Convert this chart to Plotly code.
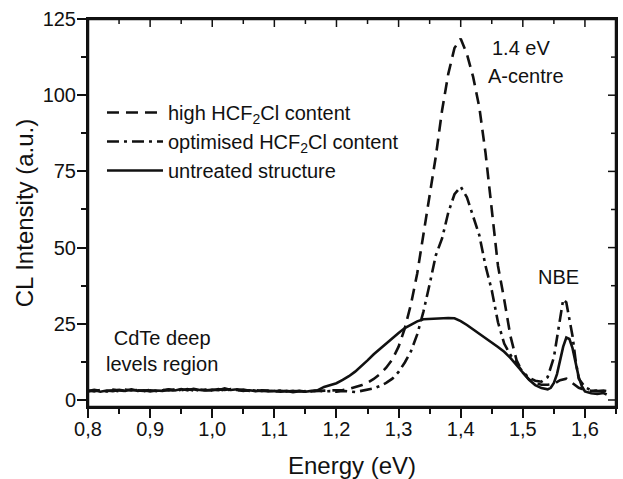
import plotly.graph_objects as go

# ---------------- data ----------------
energy_untreated = [0.80, 0.81, 0.82, 0.83, 0.84, 0.85, 0.86, 0.87, 0.88, 0.89,
                    0.90, 0.91, 0.92, 0.93, 0.94, 0.95, 0.96, 0.97, 0.98, 0.99,
                    1.00, 1.01, 1.02, 1.03, 1.04, 1.05, 1.06, 1.07, 1.08, 1.09,
                    1.10, 1.11, 1.12, 1.13, 1.14, 1.15, 1.16, 1.17, 1.18, 1.19,
                    1.20, 1.21, 1.22, 1.23, 1.24, 1.25, 1.26, 1.27, 1.28, 1.29,
                    1.30, 1.31, 1.32, 1.33, 1.34, 1.35, 1.36, 1.37, 1.38, 1.39,
                    1.40, 1.41, 1.42, 1.43, 1.44, 1.45, 1.46, 1.47, 1.48, 1.49,
                    1.50, 1.51, 1.52, 1.53, 1.54, 1.545, 1.55, 1.555, 1.56, 1.565,
                    1.57, 1.575, 1.58, 1.585, 1.59, 1.595, 1.60, 1.61, 1.62, 1.63, 1.635]
cl_untreated = [2.8, 3.2, 2.7, 3.1, 2.9, 3.3, 3.0, 3.5, 3.0, 3.2,
                2.8, 3.1, 3.0, 3.4, 3.1, 3.6, 3.2, 3.7, 3.3, 3.1,
                3.4, 3.2, 3.8, 3.3, 3.5, 3.1, 3.2, 2.9, 3.1, 2.8,
                3.0, 2.7, 3.0, 2.6, 2.9, 2.7, 3.0, 3.2, 4.3, 4.8,
                5.5, 6.6, 7.8, 9.3, 11.0, 13.0, 15.0, 16.8, 18.4, 20.2,
                22.0, 23.6, 24.8, 25.8, 26.5, 26.6, 26.7, 26.9, 26.9, 26.8,
                25.9, 24.6, 23.2, 21.8, 20.4, 18.9, 17.4, 15.8, 13.8, 11.4,
                8.9, 6.6, 4.9, 3.9, 3.5, 4.0, 5.6, 8.5, 13.0, 17.5,
                20.5, 20.0, 17.0, 12.0, 7.5, 4.5, 2.8, 2.2, 2.0, 2.3, 1.8]

energy_high = [0.80, 0.81, 0.82, 0.83, 0.84, 0.85, 0.86, 0.87, 0.88, 0.89,
               0.90, 0.91, 0.92, 0.93, 0.94, 0.95, 0.96, 0.97, 0.98, 0.99,
               1.00, 1.01, 1.02, 1.03, 1.04, 1.05, 1.06, 1.07, 1.08, 1.09,
               1.10, 1.11, 1.12, 1.13, 1.14, 1.15, 1.16, 1.17, 1.18, 1.19,
               1.20, 1.21, 1.22, 1.23, 1.24, 1.25, 1.26, 1.27, 1.28, 1.29,
               1.30, 1.31, 1.32, 1.33, 1.34, 1.35, 1.36, 1.37, 1.38, 1.39,
               1.40, 1.41, 1.42, 1.43, 1.44, 1.45, 1.46, 1.47, 1.48, 1.49,
               1.50, 1.51, 1.52, 1.53, 1.54, 1.55, 1.56, 1.57, 1.58, 1.59,
               1.60, 1.61, 1.62]
cl_high = [3.1, 2.8, 3.3, 2.9, 3.2, 2.8, 3.4, 3.1, 3.3, 2.9,
           3.2, 3.0, 3.3, 3.1, 3.5, 3.2, 3.6, 3.1, 3.4, 3.3,
           3.1, 3.5, 3.3, 3.6, 3.2, 3.4, 3.0, 3.2, 2.9, 3.1,
           2.8, 3.0, 2.9, 2.8, 3.0, 2.8, 2.9, 3.0, 2.9, 3.0,
           3.1, 3.3, 3.6, 4.1, 4.8, 5.7, 6.9, 8.5, 10.6, 13.3,
           17.5, 23.5, 31.5, 41.5, 54.0, 66.0, 80.0, 95.0, 107.0, 115.5,
           118.5, 113.5, 106.0, 96.0, 81.0, 62.5, 44.0, 33.0, 21.0, 13.0,
           9.0, 6.8, 5.5, 5.0, 5.0, 5.3, 6.5, 7.0, 5.5, 4.0,
           3.3, 3.0, 3.1]

energy_optimised = [0.80, 0.81, 0.82, 0.83, 0.84, 0.85, 0.86, 0.87, 0.88, 0.89,
                    0.90, 0.91, 0.92, 0.93, 0.94, 0.95, 0.96, 0.97, 0.98, 0.99,
                    1.00, 1.01, 1.02, 1.03, 1.04, 1.05, 1.06, 1.07, 1.08, 1.09,
                    1.10, 1.11, 1.12, 1.13, 1.14, 1.15, 1.16, 1.17, 1.18, 1.19,
                    1.20, 1.21, 1.22, 1.23, 1.24, 1.25, 1.26, 1.27, 1.28, 1.29,
                    1.30, 1.31, 1.32, 1.33, 1.34, 1.35, 1.36, 1.37, 1.38, 1.39,
                    1.40, 1.41, 1.42, 1.43, 1.44, 1.45, 1.46, 1.47, 1.48, 1.49,
                    1.50, 1.51, 1.52, 1.53, 1.54, 1.55, 1.56, 1.565, 1.57, 1.575,
                    1.58, 1.585, 1.59, 1.60, 1.61, 1.62, 1.63, 1.64]
cl_optimised = [2.9, 3.3, 3.0, 2.8, 3.4, 3.1, 2.9, 3.3, 3.2, 3.0,
                3.3, 2.9, 3.2, 3.5, 3.0, 3.4, 3.3, 3.5, 3.0, 3.4,
                3.2, 3.6, 3.1, 3.4, 3.3, 3.0, 3.3, 3.0, 3.2, 3.0,
                2.9, 3.1, 2.8, 3.0, 2.7, 2.9, 2.8, 3.1, 2.8, 2.9,
                2.7, 3.0, 2.8, 2.6, 3.0, 3.3, 3.8, 4.6, 5.6, 7.0,
                9.2, 12.3, 16.0, 21.5, 29.0, 38.0, 47.5, 53.0, 61.5, 67.5,
                70.0, 66.5, 60.5, 54.0, 44.0, 36.0, 25.5, 18.5, 14.8, 11.8,
                9.2, 7.3, 6.3, 6.0, 7.5, 14.0, 26.0, 33.0, 32.0, 27.0,
                21.0, 13.0, 7.0, 4.2, 3.2, 2.9, 3.1, 2.8]

series_names = ["high HCF<sub>2</sub>Cl content",
                "optimised HCF<sub>2</sub>Cl content",
                "untreated structure"]

y_ticks = [0, 25, 50, 75, 100, 125]
y_minor_ticks = [12.5, 37.5, 62.5, 87.5, 112.5]
x_ticks = [0.8, 0.9, 1.0, 1.1, 1.2, 1.3, 1.4, 1.5, 1.6]
x_minor_ticks = [0.85, 0.95, 1.05, 1.15, 1.25, 1.35, 1.45, 1.55, 1.65]

# ---------------- figure ----------------
INK = "#111111"
FONT = "Liberation Sans, Arial, sans-serif"
XR = [0.8, 1.65]
YR = [-2.3, 125]

fig = go.Figure()
fig.add_trace(go.Scatter(x=energy_high, y=cl_high, mode="lines", name=series_names[0],
                         line=dict(color=INK, width=2.6, dash="12px,7px")))
fig.add_trace(go.Scatter(x=energy_optimised, y=cl_optimised, mode="lines", name=series_names[1],
                         line=dict(color=INK, width=2.6, dash="12px,5px,3px,5px")))
fig.add_trace(go.Scatter(x=energy_untreated, y=cl_untreated, mode="lines", name=series_names[2],
                         line=dict(color=INK, width=2.6)))

tick_common = dict(tickcolor=INK, tickwidth=1.5, showgrid=False, zeroline=False,
                   automargin=False, showline=True, linecolor=INK, linewidth=2,
                   mirror=True,
                   tickfont=dict(family=FONT, size=20, color=INK))

fig.update_layout(
    width=623, height=479,
    margin=dict(l=88, r=7, t=19, b=72),
    paper_bgcolor="white", plot_bgcolor="white",
    separators=",.",
    font=dict(family=FONT, size=20, color=INK),
    xaxis=dict(range=XR, tickvals=x_ticks, tickformat=".1f", ticks="outside", ticklen=9,
               ticklabelstandoff=-6,
               minor=dict(tickvals=x_minor_ticks, ticks="outside", ticklen=5,
                          tickcolor=INK, tickwidth=1.5),
               title=dict(text="Energy (eV)", font=dict(family=FONT, size=24, color=INK),
                          standoff=20),
               **tick_common),
    yaxis=dict(range=YR, tickvals=y_ticks, ticks="outside", ticklen=9,
               ticklabelstandoff=-3,
               minor=dict(tickvals=y_minor_ticks, ticks="outside", ticklen=5,
                          tickcolor=INK, tickwidth=1.5),
               title=dict(text="CL Intensity (a.u.)", font=dict(family=FONT, size=24, color=INK),
                          standoff=2),
               **tick_common),
    legend=dict(x=0.0265, y=0.8094, xanchor="left", yanchor="top",
                bgcolor="rgba(0,0,0,0)", borderwidth=0, itemwidth=56,
                font=dict(family=FONT, size=20, color=INK), tracegroupgap=0),
    showlegend=True,
)

# frame on the top and right sides, with inward ticks (as in the reference)
fig.add_shape(type="rect", xref="paper", yref="paper", x0=0, x1=1, y0=0, y1=1,
              line=dict(color=INK, width=2.5), fillcolor="rgba(0,0,0,0)", layer="above")
for vals, length in ((x_ticks, 8), (x_minor_ticks, 5)):
    for v in vals:
        fig.add_shape(type="line", xref="x", yref="paper", ysizemode="pixel", yanchor=1,
                      x0=v, x1=v, y0=0, y1=-length, line=dict(color=INK, width=1.5))
for vals, length in ((y_ticks, 8), (y_minor_ticks, 5)):
    for v in vals:
        fig.add_shape(type="line", yref="y", xref="paper", xsizemode="pixel", xanchor=1,
                      y0=v, y1=v, x0=0, x1=-length, line=dict(color=INK, width=1.5))

annots = [
    dict(x=1.4466, y=115.5, text="1.4 eV", xanchor="left"),
    dict(x=1.4405, y=106.3, text="A-centre", xanchor="left"),
    dict(x=1.5210, y=40.4, text="NBE", xanchor="left"),
    dict(x=0.9186, y=16.2, text="CdTe deep<br>levels region", xanchor="center", align="center"),
]
for a in annots:
    fig.add_annotation(xref="x", yref="y", showarrow=False, yanchor="middle",
                       font=dict(family=FONT, size=20, color=INK), **a)

fig.write_html("out.html", config={"displayModeBar": False},
               post_script="document.body.style.margin='0px';document.body.style.overflow='hidden';")
